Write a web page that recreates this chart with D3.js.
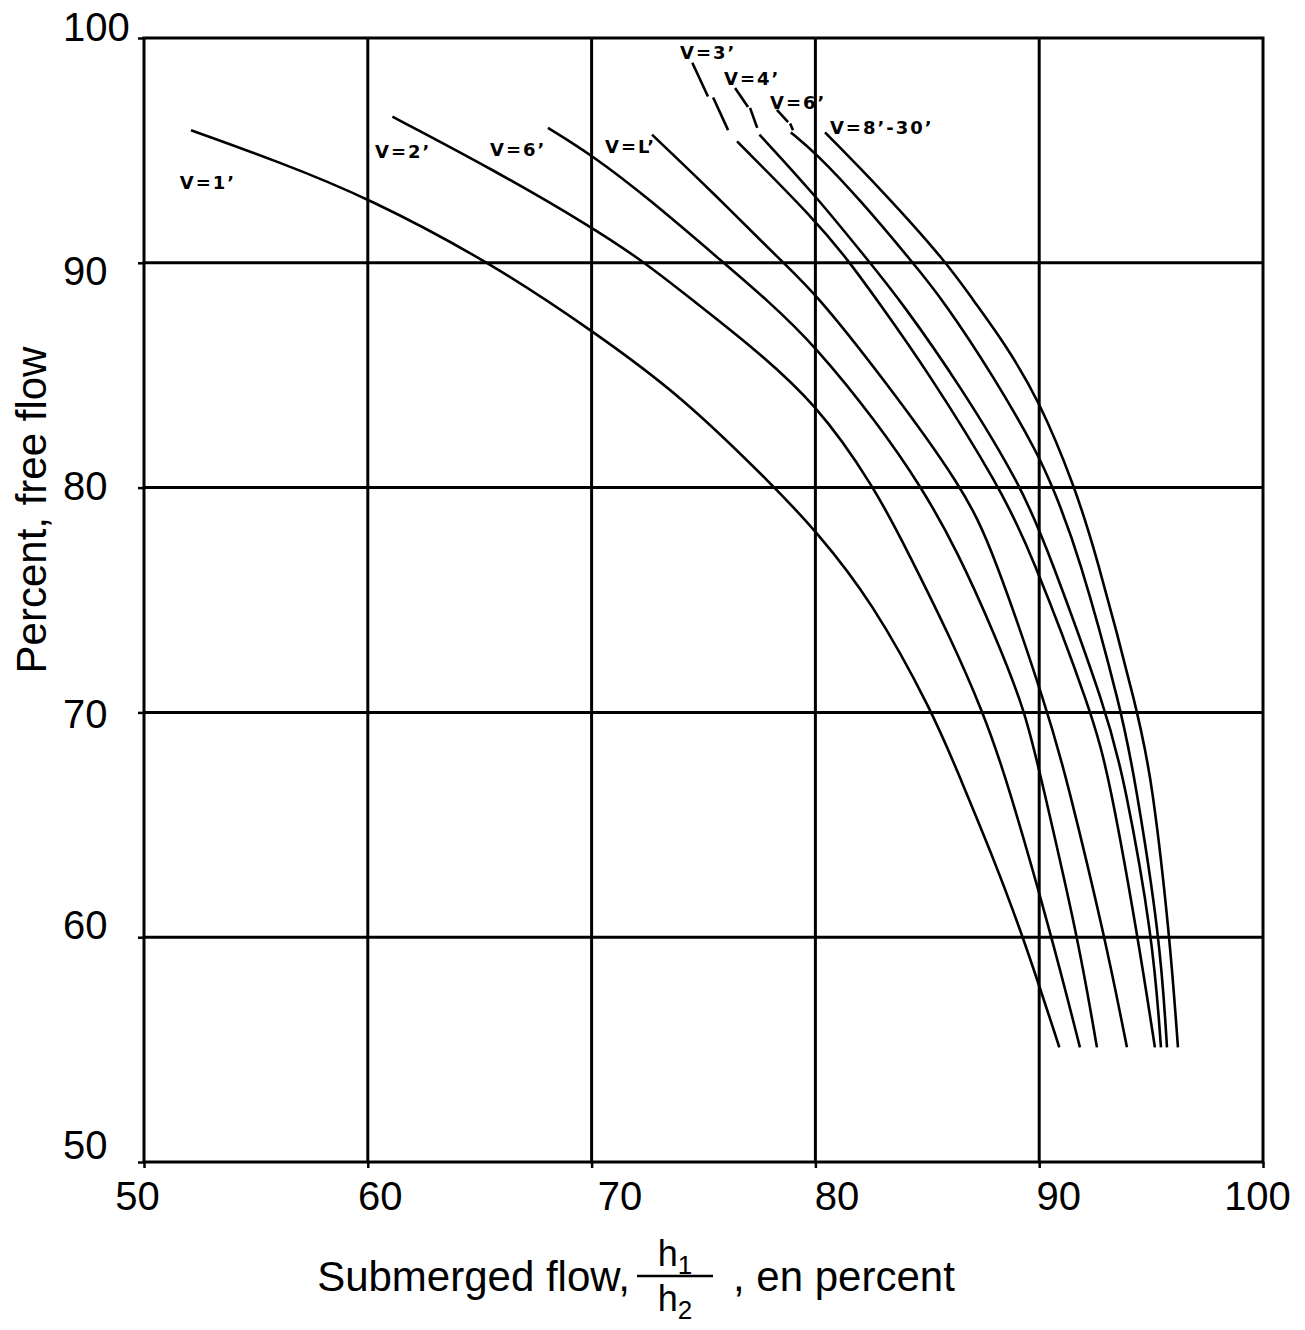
<!DOCTYPE html>
<html>
<head>
<meta charset="utf-8">
<script src="https://cdn.jsdelivr.net/npm/d3@7"></script>
<style>
  html, body { margin: 0; padding: 0; background: #fff; }
  svg { display: block; }
</style>
</head>
<body>
<svg id="chart" width="1305" height="1330"></svg>
<script>
// Tick values on both axes
const xTicks = [50, 60, 70, 80, 90, 100];
const yTicks = [50, 60, 70, 80, 90, 100];

// Curves: [submerged flow %, percent free flow]
const v1 = [[52.1, 95.9], [56, 94.5], [60, 92.9], [65.5, 90], [70, 87], [74, 84.1], [78.2, 80], [80, 78.1], [82.5, 75], [85.25, 70], [86.5, 67], [87.8, 63.9], [89.3, 60], [90.9, 55.1]];
const v2 = [[61.1, 96.5], [65.5, 94.2], [70, 91.6], [72.4, 90], [74.5, 88.35], [77, 86.4], [80, 83.8], [82.65, 80], [84.1, 77.2], [86, 73.4], [87.5, 70], [88.56, 67], [90.57, 60], [91.82, 55.1]];
const v6a = [[68.05, 96.0], [70, 94.8], [72.5, 92.9], [75.9, 90], [77.84, 88.35], [80, 86.3], [82.75, 82.9], [84.76, 80], [86.33, 77.2], [88, 73.5], [89.4, 70], [90.1, 67], [91.73, 60], [92.58, 55.1]];
const vL = [[72.7, 95.7], [75.5, 93.05], [78.55, 90], [80, 88.65], [83, 84.9], [86.6, 80], [87.94, 77.2], [90.4, 70], [91.24, 67], [92.94, 60], [93.92, 55.1]];
const v3 = [[76.5, 95.4], [80, 91.9], [81.55, 90], [82.75, 88.35], [85, 85.2], [88.25, 80], [89.6, 77.2], [92.36, 70], [93.15, 67], [94.41, 60], [95.17, 55.1]];
const v4 = [[77.5, 95.7], [80, 93.0], [82.44, 90], [83.78, 88.35], [86.5, 84.5], [89.23, 80], [90.4, 77.2], [93.03, 70], [93.8, 67], [95.08, 60], [95.44, 55.1]];
const v6b = [[78.9, 95.8], [80, 94.9], [82, 92.8], [84.36, 90], [85.7, 88.35], [88, 84.9], [90, 81.4], [90.6, 80], [91.73, 77.2], [93.7, 70], [94.28, 67], [95.4, 60], [95.71, 55.1]];
const v8 = [[80.43, 95.8], [83, 93.2], [85.88, 90], [87.04, 88.35], [88.4, 86.5], [90, 83.9], [91.6, 80], [92.5, 77.2], [94.41, 70], [95.04, 67], [95.84, 60], [96.2, 55.1]];

// Broken leaders from the upper labels down to their curves
const lead3 = [[[74.5, 98.9], [75.2, 97.4]], [[75.43, 97.35], [76.1, 95.9]]];
const lead4 = [[[76.41, 97.78], [76.99, 96.93]], [[77.08, 96.89], [77.4, 96.0]]];
const lead6 = [[[78.28, 96.8], [78.78, 96.26]], [[78.87, 96.2], [79.0, 95.9]]];

const curves = [v1, v2, v6a, vL, v3, v4, v6b, v8];
const leaders = [lead3, lead4, lead6];

// Curve labels and where they sit (in chart units)
const labelText = ["V=1’", "V=2’", "V=6’", "V=L’", "V=3’", "V=4’", "V=6’", "V=8’-30’"];
const labelAt = [[51.6, 93.3], [60.32, 94.66], [65.46, 94.75], [70.6, 94.88], [73.95, 99.07], [75.92, 97.91], [77.97, 96.84], [80.65, 95.73]];

const plotL = 144, plotR = 1263, plotT = 38, plotB = 1162;

const svg = d3.select("svg#chart");

const x = d3.scaleLinear().domain([50, 100]).range([plotL, plotR]);
const y = d3.scaleLinear().domain([50, 100]).range([plotB, plotT]);

// Grid
const grid = svg.append("g")
    .attr("stroke", "#000")
    .attr("stroke-width", 3);

grid.selectAll("line.gx")
    .data(xTicks.slice(1, -1))
    .join("line")
    .attr("class", "gx")
    .attr("x1", d => x(d)).attr("x2", d => x(d))
    .attr("y1", plotT).attr("y2", plotB);

grid.selectAll("line.gy")
    .data(yTicks.slice(1, -1))
    .join("line")
    .attr("class", "gy")
    .attr("x1", plotL).attr("x2", plotR)
    .attr("y1", d => y(d)).attr("y2", d => y(d));

grid.append("rect")
    .attr("x", plotL).attr("y", plotT)
    .attr("width", plotR - plotL).attr("height", plotB - plotT)
    .attr("fill", "none");

// Axes (ticks + labels)
const xAxis = svg.append("g")
    .attr("transform", `translate(0,${plotB})`)
    .call(d3.axisBottom(x).tickValues(xTicks).tickSize(6).tickPadding(14));

const yAxis = svg.append("g")
    .attr("transform", `translate(${plotL},0)`)
    .call(d3.axisLeft(y).tickValues(yTicks).tickSize(6).tickPadding(10));

[xAxis, yAxis].forEach(a => {
    a.select(".domain").remove();
    a.selectAll(".tick line").attr("stroke", "#000").attr("stroke-width", 2.5);
    a.selectAll(".tick text")
        .attr("fill", "#000")
        .style("font-family", "'Liberation Sans', Arial, sans-serif")
        .style("font-size", "40px");
});

// the scanned labels do not sit exactly under their ticks
const xLabelShift = [-7, 12, 28, 21, 19, -6];
const yLabelShift = [-16, -11, 3, 0, 10, -10];
xAxis.selectAll(".tick text").attr("dx", (_, i) => xLabelShift[i]);
yAxis.selectAll(".tick text")
    .attr("text-anchor", "start")
    .attr("x", 63 - plotL)
    .attr("y", (_, i) => yLabelShift[i])
    .attr("dy", "0.3em");

// Curves
const line = d3.line()
    .x(d => x(d[0]))
    .y(d => y(d[1]))
    .curve(d3.curveBasis);

svg.append("g")
    .selectAll("path")
    .data(curves)
    .join("path")
    .attr("d", line)
    .attr("fill", "none")
    .attr("stroke", "#000")
    .attr("stroke-width", 2.6);

svg.append("g")
    .selectAll("path")
    .data(leaders.flat())
    .join("path")
    .attr("d", d3.line().x(d => x(d[0])).y(d => y(d[1])))
    .attr("fill", "none")
    .attr("stroke", "#000")
    .attr("stroke-width", 2.6);

// Curve labels
svg.append("g")
    .selectAll("text")
    .data(labelText)
    .join("text")
    .attr("x", (_, i) => x(labelAt[i][0]))
    .attr("y", (_, i) => y(labelAt[i][1]))
    .text(d => d)
    .style("font-family", "'DejaVu Sans', sans-serif")
    .style("font-weight", "bold")
    .style("font-size", "18px")
    .style("letter-spacing", "2px");

// Axis titles
const titleFont = "'Liberation Sans', Arial, sans-serif";

svg.append("text")
    .attr("transform", "translate(46,510) rotate(-90)")
    .attr("text-anchor", "middle")
    .style("font-family", titleFont)
    .style("font-size", "42px")
    .text("Percent, free flow");

const xt = svg.append("g").style("font-family", titleFont);

xt.append("text")
    .attr("x", 630).attr("y", 1291)
    .attr("text-anchor", "end")
    .style("font-size", "42px")
    .text("Submerged flow,");

xt.append("line")
    .attr("x1", 637).attr("x2", 713)
    .attr("y1", 1276).attr("y2", 1276)
    .attr("stroke", "#000").attr("stroke-width", 2.5);

const num = xt.append("text")
    .attr("x", 675).attr("y", 1266)
    .attr("text-anchor", "middle")
    .style("font-size", "36px");
num.append("tspan").text("h");
num.append("tspan").attr("dy", 8).style("font-size", "26px").text("1");

const den = xt.append("text")
    .attr("x", 675).attr("y", 1311)
    .attr("text-anchor", "middle")
    .style("font-size", "36px");
den.append("tspan").text("h");
den.append("tspan").attr("dy", 8).style("font-size", "26px").text("2");

xt.append("text")
    .attr("x", 733).attr("y", 1291)
    .style("font-size", "42px")
    .text(", en percent");
</script>
</body>
</html>
